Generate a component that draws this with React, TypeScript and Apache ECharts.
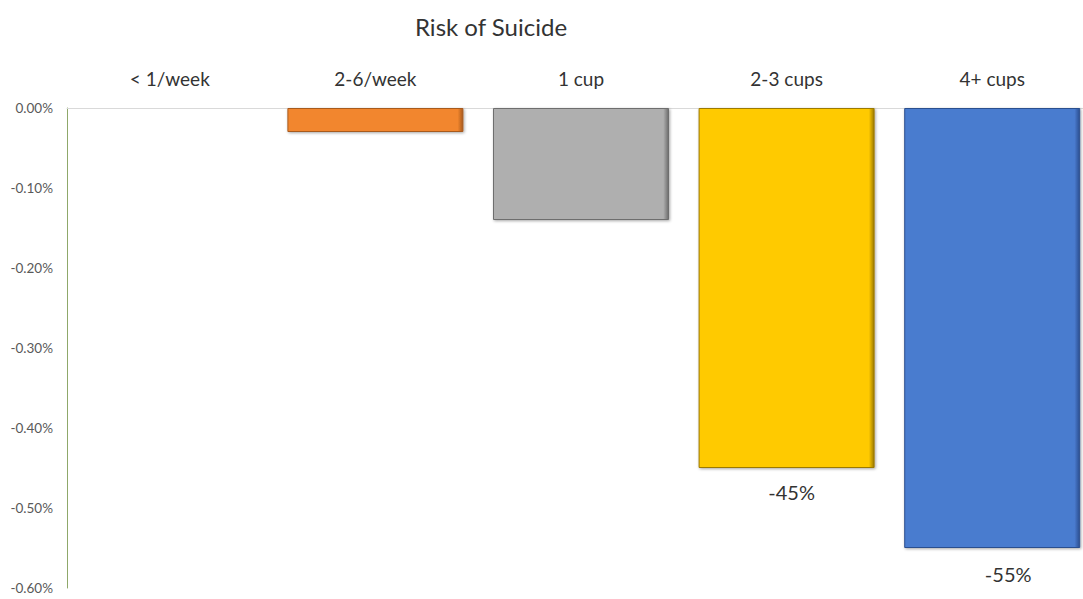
import React, { useEffect, useRef } from "react";
import * as echarts from "echarts";

// Change in risk by coffee intake (values in percent units)
const categories = ["< 1/week", "2-6/week", "1 cup", "2-3 cups", "4+ cups"];
const riskChange = [0, -0.03, -0.14, -0.45, -0.55];
const barColors = ["#4A7BCF", "#F2862F", "#AFAFAF", "#FFCA05", "#4A7BCF"];
const edgeColors = ["#2F5597", "#A85A1C", "#6E6E6E", "#9C7A00", "#2C4F8F"];
const labelled = [false, false, false, true, true];
const labelShift = [[0, 0], [0, 0], [0, 0], [5, 0], [16, 2]];
const yTicks = { min: -0.6, max: 0, interval: 0.1 };

const FONT = "Lato, 'Open Sans', 'Noto Sans', sans-serif";

export default function App() {
  const ref = useRef<HTMLDivElement>(null);

  useEffect(() => {
    if (!ref.current) return;
    const chart = echarts.init(ref.current, undefined, { renderer: "svg" });

    const data = riskChange.map((v, i) => ({
      value: v,
      itemStyle:
        v === 0
          ? { color: barColors[i], borderWidth: 0, opacity: 0 }
          : {
              color: {
                type: "linear",
                x: 0,
                y: 0,
                x2: 1,
                y2: 0,
                colorStops: [
                  { offset: 0, color: barColors[i] },
                  { offset: 0.97, color: barColors[i] },
                  { offset: 1, color: edgeColors[i] },
                ],
              },
              borderColor: edgeColors[i],
              borderWidth: 1,
              shadowColor: "rgba(0,0,0,0.35)",
              shadowBlur: 3,
              shadowOffsetX: 1,
              shadowOffsetY: 1,
            },
      label: {
        show: labelled[i],
        position: "bottom",
        distance: 14,
        offset: labelShift[i],
        formatter: () => `${Math.round(v * 100)}%`,
        fontFamily: FONT,
        fontSize: 20,
        color: "#333333",
      },
    }));

    chart.setOption({
      animation: false,
      backgroundColor: "#ffffff",
      title: {
        text: "Risk of Suicide",
        left: 410,
        top: 9,
        textStyle: {
          fontFamily: FONT,
          fontSize: 24,
          fontWeight: "normal",
          color: "#333333",
        },
      },
      grid: {
        left: 67,
        top: 108,
        width: 1028,
        height: 480,
        outerBoundsMode: "none",
      },
      xAxis: {
        type: "category",
        position: "top",
        data: categories,
        axisLine: { lineStyle: { color: "#D9D9D9", width: 1 } },
        axisTick: { show: false },
        axisLabel: {
          margin: 20,
          fontFamily: FONT,
          fontSize: 19,
          color: "#333333",
        },
        splitLine: { show: false },
      },
      yAxis: {
        type: "value",
        min: yTicks.min,
        max: yTicks.max,
        interval: yTicks.interval,
        axisLine: { show: true, lineStyle: { color: "#8FA86A", width: 1 } },
        axisTick: { show: false },
        splitLine: { show: false },
        axisLabel: {
          margin: 14,
          fontFamily: FONT,
          fontSize: 13.5,
          color: "#595959",
          formatter: (v: number) => `${v.toFixed(2)}%`,
        },
      },
      series: [
        {
          type: "bar",
          data,
          barCategoryGap: "14.4%",
        },
      ],
    });

    return () => chart.dispose();
  }, []);

  return (
    <div
      ref={ref}
      style={{ position: "fixed", left: 0, top: 0, width: 1083, height: 599 }}
    />
  );
}
